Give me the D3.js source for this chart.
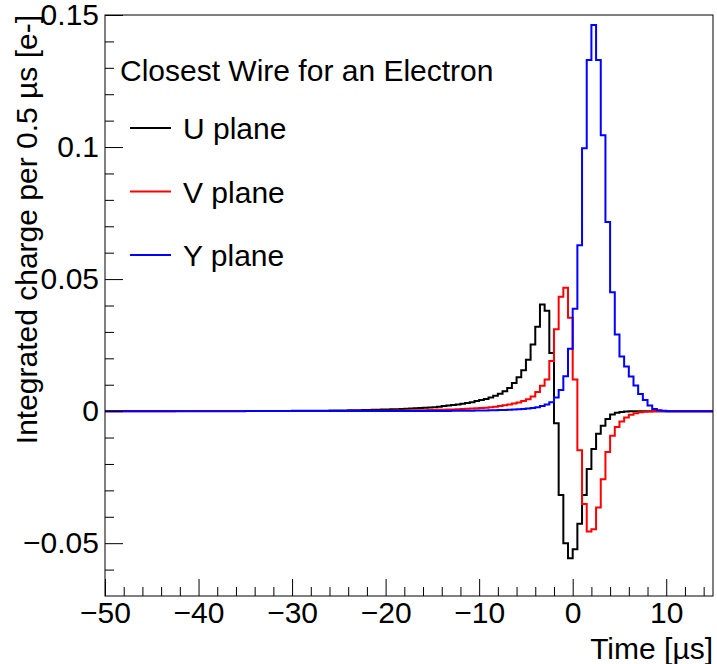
<!DOCTYPE html>
<html>
<head>
<meta charset="utf-8">
<script src="https://cdn.jsdelivr.net/npm/d3@7"></script>
<style>
  body { margin: 0; background: #fff; }
  svg text { font-family: "Liberation Sans", Arial, Helvetica, sans-serif; fill: #000; }
  .frame { fill: none; stroke: #000; stroke-width: 1; }
  .hist { fill: none; stroke-width: 2; }
  .tick line { stroke: #000; }
</style>
</head>
<body>
<svg class="chart" width="717" height="664"></svg>
<script>
// bin edges: 0.5 us bins from -50 to 15
const binStart = -50;
const binWidth = 0.5;

// integrated charge per bin, one row = 10 bins (5 us)
const uPlane = [
  0.00001, 0.00001, 0.00001, 0.00001, 0.00001, 0.00001, 0.00001, 0.00001, 0.00001, 0.00001,
  0.00001, 0.00001, 0.00001, 0.00001, 0.00002, 0.00002, 0.00002, 0.00002, 0.00002, 0.00002,
  0.00003, 0.00003, 0.00003, 0.00003, 0.00003, 0.00004, 0.00004, 0.00004, 0.00004, 0.00004,
  0.00005, 0.00005, 0.00006, 0.00006, 0.00007, 0.00007, 0.00008, 0.00008, 0.00009, 0.00009,
  0.0001, 0.00011, 0.00012, 0.00013, 0.00014, 0.00015, 0.00017, 0.00019, 0.00021, 0.00023,
  0.00025, 0.00027, 0.0003, 0.00033, 0.00036, 0.0004, 0.00044, 0.00048, 0.00053, 0.00058,
  0.00064, 0.0007, 0.00076, 0.00083, 0.0009, 0.001, 0.0011, 0.0012, 0.0013, 0.0014,
  0.0015, 0.0017, 0.0019, 0.0021, 0.0023, 0.0025, 0.0028, 0.0031, 0.0034, 0.0038,
  0.0042, 0.0046, 0.0052, 0.0058, 0.0066, 0.0075, 0.0088, 0.0107, 0.0128, 0.0155,
  0.0195, 0.0252, 0.032, 0.0404, 0.038, 0.022, -0.0046, -0.0318, -0.05, -0.0557,
  -0.0523, -0.0426, -0.0318, -0.0219, -0.0143, -0.0086, -0.0055, -0.003, -0.0013, -0.0006,
  -0.0003, -0.00015, -0.00008, -0.00004, 0, 0, 0, 0, 0, 0,
  0, 0, 0, 0, 0, 0, 0, 0, 0, 0
];

const vPlane = [
  0, 0, 0, 0, 0, 0, 0, 0, 0, 0,
  0, 0, 0, 0, 0, 0.00001, 0.00001, 0.00001, 0.00001, 0.00001,
  0.00001, 0.00001, 0.00001, 0.00001, 0.00001, 0.00002, 0.00002, 0.00002, 0.00002, 0.00002,
  0.00002, 0.00002, 0.00002, 0.00003, 0.00003, 0.00003, 0.00003, 0.00004, 0.00004, 0.00004,
  0.00004, 0.00005, 0.00005, 0.00005, 0.00006, 0.00006, 0.00007, 0.00007, 0.00008, 0.00008,
  0.00009, 0.00009, 0.0001, 0.0001, 0.00011, 0.00012, 0.00013, 0.00014, 0.00015, 0.00016,
  0.00017, 0.00018, 0.0002, 0.00022, 0.00024, 0.00027, 0.0003, 0.00033, 0.00036, 0.0004,
  0.00045, 0.0005, 0.00055, 0.0006, 0.00065, 0.0007, 0.0008, 0.0009, 0.001, 0.0011,
  0.0012, 0.0013, 0.0015, 0.0017, 0.0019, 0.0022, 0.0025, 0.0029, 0.0033, 0.0038,
  0.0045, 0.0055, 0.0072, 0.0096, 0.012, 0.019, 0.031, 0.0433, 0.0467, 0.0354,
  0.012, -0.0148, -0.0352, -0.0456, -0.0447, -0.0365, -0.0258, -0.0155, -0.0093, -0.006,
  -0.0039, -0.0024, -0.0014, -0.0008, -0.0004, -0.0002, -0.0001, -0.00005, 0, 0,
  0, 0, 0, 0, 0, 0, 0, 0, 0, 0
];

const yPlane = [
  0, 0, 0, 0, 0, 0, 0, 0, 0, 0,
  0, 0, 0, 0, 0, 0, 0, 0, 0, 0,
  0, 0, 0, 0, 0, 0, 0, 0, 0, 0,
  0.00001, 0.00001, 0.00001, 0.00001, 0.00001, 0.00001, 0.00001, 0.00001, 0.00001, 0.00001,
  0.00001, 0.00001, 0.00001, 0.00001, 0.00001, 0.00001, 0.00001, 0.00001, 0.00001, 0.00001,
  0.00001, 0.00001, 0.00001, 0.00001, 0.00002, 0.00002, 0.00002, 0.00002, 0.00002, 0.00002,
  0.00002, 0.00003, 0.00003, 0.00003, 0.00003, 0.00004, 0.00004, 0.00004, 0.00005, 0.00005,
  0.00006, 0.00007, 0.00008, 0.00009, 0.0001, 0.00011, 0.00013, 0.00015, 0.00017, 0.0002,
  0.00023, 0.00026, 0.0003, 0.00035, 0.0004, 0.00046, 0.00053, 0.00062, 0.00072, 0.00085,
  0.001, 0.0012, 0.0015, 0.0019, 0.0025, 0.0034, 0.0052, 0.008, 0.0132, 0.0236,
  0.0388, 0.0628, 0.0995, 0.133, 0.1462, 0.133, 0.1045, 0.0716, 0.045, 0.029,
  0.0207, 0.0169, 0.0131, 0.0097, 0.0065, 0.0042, 0.0021, 0.0008, 0.0003, 0.0001,
  0, 0, 0, 0, 0, 0, 0, 0, 0, 0
];

const seriesNames = ["U plane", "V plane", "Y plane"];
const seriesColors = ["#000000", "#ff0000", "#0000ff"];
const seriesValues = [uPlane, vPlane, yPlane];

const xMajorTicks = [-50, -40, -30, -20, -10, 0, 10];
const xMinorTicks = [-48, -46, -44, -42, -38, -36, -34, -32, -28, -26, -24, -22,
  -18, -16, -14, -12, -8, -6, -4, -2, 2, 4, 6, 8, 12, 14];
const yMajorTicks = [-0.05, 0, 0.05, 0.1, 0.15];
const yMinorTicks = [-0.06, -0.04, -0.03, -0.02, -0.01, 0.01, 0.02, 0.03, 0.04,
  0.06, 0.07, 0.08, 0.09, 0.11, 0.12, 0.13, 0.14];

const legendTitle = "Closest Wire for an Electron";
const xTitle = "Time [\u00b5s]";
const yTitle = "Integrated charge per 0.5 \u00b5s [e-]";

const frame = { left: 105, right: 713, top: 15, bottom: 596 };

const svg = d3.select("svg.chart");

const x = d3.scaleLinear().domain([-50, 15]).range([frame.left, frame.right]);
const y = d3.scaleLinear().domain([-0.07, 0.15]).range([frame.bottom, frame.top]);
const tickFormat = d3.format("~g");

svg.append("defs")
  .append("clipPath")
  .attr("id", "plot-clip")
  .append("rect")
  .attr("x", frame.left)
  .attr("y", frame.top)
  .attr("width", frame.right - frame.left)
  .attr("height", frame.bottom - frame.top);

// histograms as steps (last point closes the final bin)
const step = d3.line()
  .x((d) => x(d[0]))
  .y((d) => y(d[1]))
  .curve(d3.curveStepAfter);

const histData = seriesValues.map((vals) => {
  const pts = vals.map((v, i) => [binStart + i * binWidth, v]);
  pts.push([binStart + vals.length * binWidth, vals[vals.length - 1]]);
  return pts;
});

svg.append("g")
  .attr("clip-path", "url(#plot-clip)")
  .selectAll("path")
  .data(histData)
  .enter()
  .append("path")
  .attr("class", "hist")
  .attr("stroke", (d, i) => seriesColors[i])
  .attr("d", step);

// axes, ticks pointing into the frame
const xAxisG = svg.append("g")
  .attr("transform", `translate(0, ${frame.bottom})`)
  .call(d3.axisBottom(x).tickValues(xMajorTicks).tickSizeInner(-17).tickSizeOuter(0)
    .tickPadding(6).tickFormat(tickFormat));

svg.append("g")
  .attr("transform", `translate(0, ${frame.bottom})`)
  .call(d3.axisBottom(x).tickValues(xMinorTicks).tickSizeInner(-9).tickSizeOuter(0)
    .tickFormat(""));

const yAxisG = svg.append("g")
  .attr("transform", `translate(${frame.left}, 0)`)
  .call(d3.axisLeft(y).tickValues(yMajorTicks).tickSizeInner(-18).tickSizeOuter(0)
    .tickPadding(6).tickFormat(tickFormat));

svg.append("g")
  .attr("transform", `translate(${frame.left}, 0)`)
  .call(d3.axisLeft(y).tickValues(yMinorTicks).tickSizeInner(-9).tickSizeOuter(0)
    .tickFormat(""));

svg.selectAll(".domain").remove();
svg.selectAll(".tick text").style("font-size", "30px");

svg.append("rect")
  .attr("class", "frame")
  .attr("x", frame.left)
  .attr("y", frame.top)
  .attr("width", frame.right - frame.left)
  .attr("height", frame.bottom - frame.top);

// axis titles
svg.append("text")
  .attr("x", frame.right)
  .attr("y", 659)
  .attr("text-anchor", "end")
  .style("font-size", "30px")
  .text(xTitle);

svg.append("text")
  .attr("transform", `translate(37, ${frame.top}) rotate(-90)`)
  .attr("text-anchor", "end")
  .style("font-size", "30px")
  .text(yTitle);

// legend
svg.append("text")
  .attr("x", 120)
  .attr("y", 81)
  .style("font-size", "30px")
  .text(legendTitle);

const legendRows = svg.selectAll("g.legend-row")
  .data(seriesNames)
  .enter()
  .append("g")
  .attr("class", "legend-row")
  .attr("transform", (d, i) => `translate(0, ${128 + i * 63.5})`);

legendRows.append("line")
  .attr("x1", 130)
  .attr("x2", 171)
  .attr("y1", 0)
  .attr("y2", 0)
  .attr("stroke", (d, i) => seriesColors[i])
  .attr("stroke-width", 2);

legendRows.append("text")
  .attr("x", 183)
  .attr("y", 11)
  .style("font-size", "30px")
  .text((d) => d);
</script>
</body>
</html>
